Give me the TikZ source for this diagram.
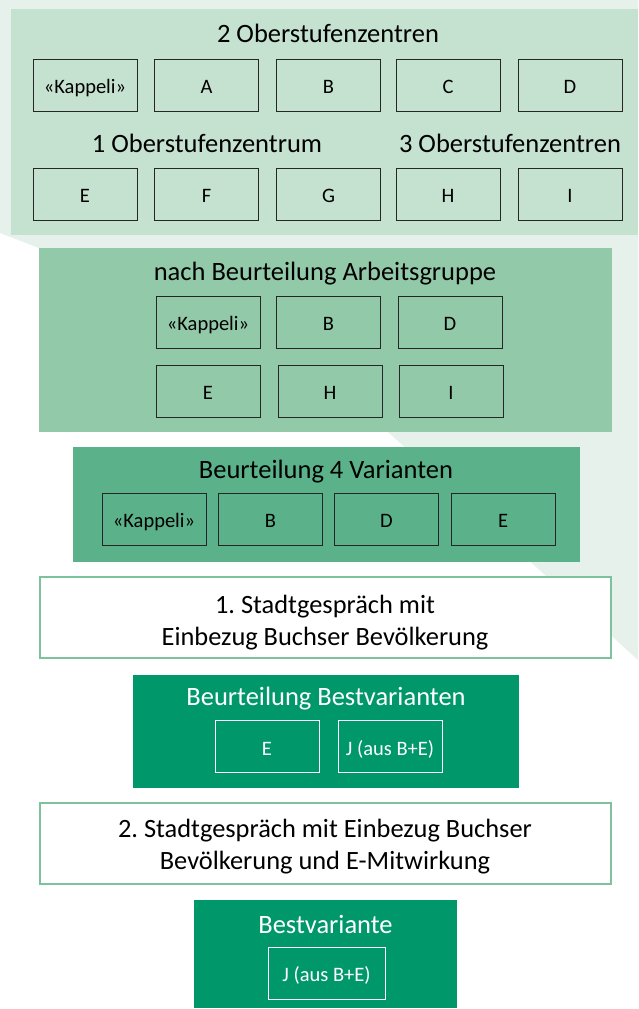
\documentclass[tikz,border=0pt]{standalone}
\usepackage{fontspec}
\setmainfont{Carlito}
\frenchspacing

\definecolor{bgpale}{HTML}{E6F1EB}
\definecolor{stageone}{HTML}{C5E1D0}
\definecolor{stagetwo}{HTML}{92C9A8}
\definecolor{stagethree}{HTML}{5BB189}
\definecolor{stagebest}{HTML}{00986A}
\definecolor{frameline}{HTML}{7DC19D}

\begin{document}
\begin{tikzpicture}[x=1pt,y=-1pt,
  title/.style={anchor=base, inner sep=0pt, font=\fontsize{26.5}{30}\selectfont},
  talk/.style={anchor=base, inner sep=0pt, align=center, font=\fontsize{26.4}{32}\selectfont},
  variant/.style={draw=black!85, line width=1pt, inner sep=0pt,
    minimum width=104pt, minimum height=52pt, text height=17.6pt, text depth=0pt,
    font=\fontsize{20.5}{22}\selectfont},
  bestvariant/.style={variant, draw=white, text=white}]

\useasboundingbox (0,0) rectangle (638,1009);

% funnel behind the stages
\fill[bgpale] (0,0) -- (638,0) -- (638,660) -- (388,432) -- (39,248) -- (0,233) -- cycle;

% stage 1: all variants
\fill[stageone] (11,9) rectangle (638,235);

\node[title] (zwei) at (328,42) {2 Oberstufenzentren};

\node[variant] (kap1) at (85,85) {«Kappeli»};
\node[variant] (a1) at (206.5,85) {A};
\node[variant] (b1) at (328.5,85) {B};
\node[variant] (c1) at (448,85) {C};
\node[variant] (d1) at (570,85) {D};

\node[title] (eins) at (207,152) {1 Oberstufenzentrum};
\node[title] (drei) at (510,152) {3 Oberstufenzentren};

\node[variant] (e1) at (85,194) {E};
\node[variant] (f1) at (206.5,194) {F};
\node[variant] (g1) at (328.5,194) {G};
\node[variant] (h1) at (448,194) {H};
\node[variant] (i1) at (570,194) {I};

% stage 2: working group
\fill[stagetwo] (39,248) rectangle (612,432);

\node[title] (gruppe) at (325,280) {nach Beurteilung Arbeitsgruppe};

\node[variant] (kap2) at (208,322) {«Kappeli»};
\node[variant] (b2) at (328.5,322) {B};
\node[variant] (d2) at (450,322) {D};

\node[variant] (e2) at (208,391) {E};
\node[variant] (h2) at (330,391) {H};
\node[variant] (i2) at (451,391) {I};

% stage 3: four variants
\fill[stagethree] (73,447) rectangle (580,562);

\node[title] (vier) at (326,478) {Beurteilung 4 Varianten};

\node[variant] (kap3) at (154,519) {«Kappeli»};
\node[variant] (b3) at (270.5,519) {B};
\node[variant] (d3) at (386.5,519) {D};
\node[variant] (e3) at (503,519) {E};

% first town talk
\draw[frameline, line width=2pt, fill=white] (40,577) rectangle (611,658);
\node[talk] (talk1) at (325,645) {1. Stadtgespräch mit\\Einbezug Buchser Bevölkerung};

% stage 4: best variants
\fill[stagebest] (133,675) rectangle (519,788);

\node[title, text=white] (best) at (326,705) {Beurteilung Bestvarianten};

\node[bestvariant] (e4) at (267,746.5) {E};
\node[bestvariant] (j4) at (390,746.5) {J (aus B+E)};

% second town talk
\draw[frameline, line width=2pt, fill=white] (40,803) rectangle (611,884);
\node[talk] (talk2) at (325,869) {2. Stadtgespräch mit Einbezug Buchser\\Bevölkerung und E-Mitwirkung};

% result
\fill[stagebest] (194,900) rectangle (457,1008);

\node[title, text=white] (bestv) at (325.5,933) {Bestvariante};

\node[bestvariant, minimum width=117pt] (j5) at (326.5,973) {J (aus B+E)};

\end{tikzpicture}
\end{document}
